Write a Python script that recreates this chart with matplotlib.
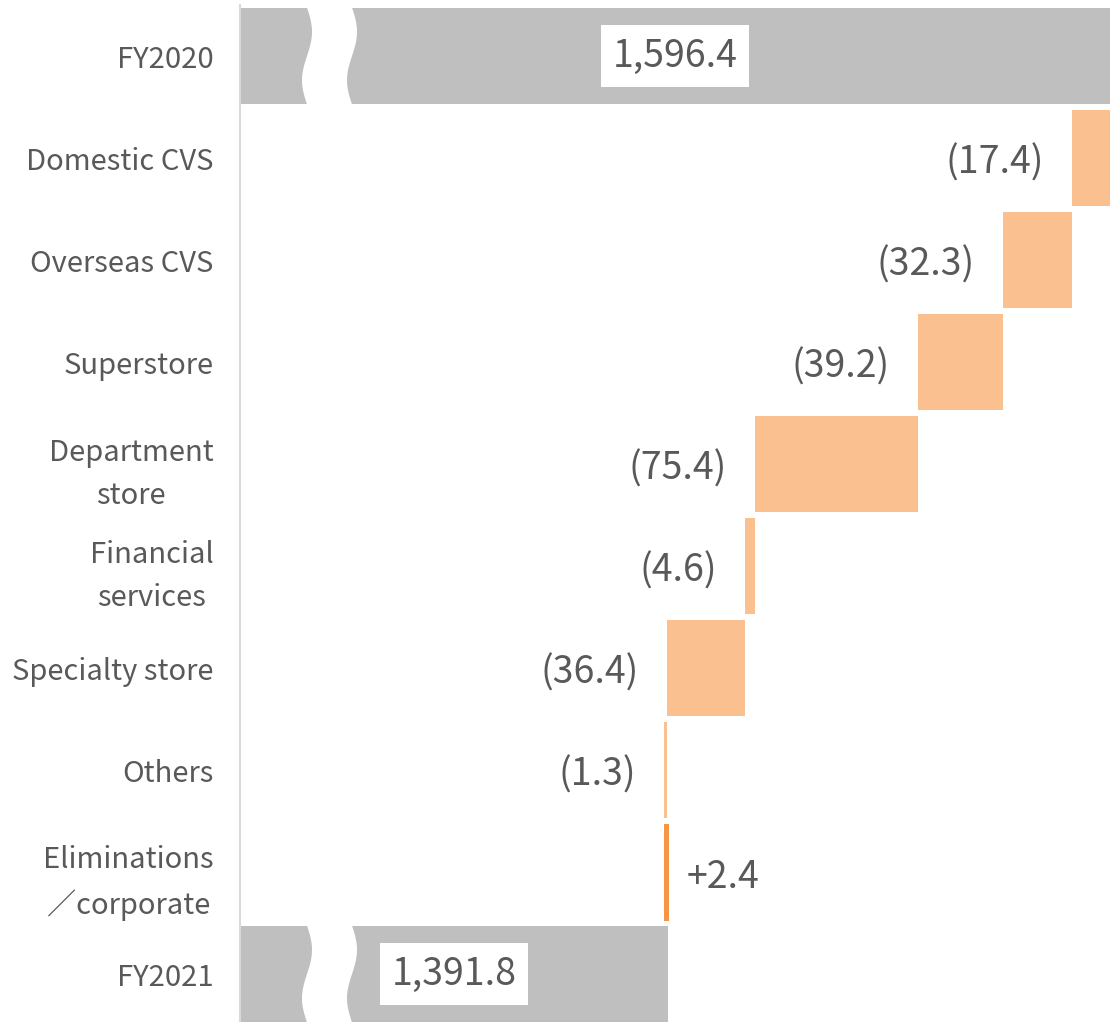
import numpy as np
import matplotlib
matplotlib.use("Agg")
import matplotlib.pyplot as plt
import matplotlib.transforms as mtransforms

plt.rcParams['font.family'] = ['Noto Sans CJK JP', 'DejaVu Sans']

categories = ["FY2020", "Domestic CVS", "Overseas CVS", "Superstore",
              "Department\nstore", "Financial\nservices", "Specialty store",
              "Others", "Eliminations\n／corporate", "FY2021"]
start_total = 1596.4
changes = [-17.4, -32.3, -39.2, -75.4, -4.6, -36.4, -1.3, 2.4]
end_total = 1391.8

gray = "#BFBFBF"
neg_color = "#FAC090"
pos_color = "#F79646"
text_color = "#595959"

x_min = 1193.6   # axis starts here, total bars are broken
bar_h = 0.95

fig = plt.figure(figsize=(11.1, 10.22), dpi=100)
ax = fig.add_axes([240 / 1110, 0, 1 - 240 / 1110, 1 - 5 / 1022])

n = len(categories)
y = np.arange(n)

# totals
ax.barh(0, start_total - x_min, left=x_min, height=bar_h, color=gray)
ax.barh(n - 1, end_total - x_min, left=x_min, height=bar_h, color=gray)

# steps
level = start_total
for i, d in enumerate(changes, start=1):
    new = level + d
    left = min(level, new)
    ax.barh(i, abs(d), left=left, height=bar_h,
            color=neg_color if d < 0 else pos_color)
    if d < 0:
        ax.annotate(f"({abs(d):.1f})", (left, i), xytext=(-28, -5),
                    textcoords="offset pixels", ha="right", va="center",
                    fontsize=27, color=text_color)
    else:
        ax.annotate(f"+{d:.1f}", (left + abs(d), i), xytext=(18, -5),
                    textcoords="offset pixels", ha="left", va="center",
                    fontsize=27, color=text_color)
    level = new

# total labels in white boxes, centred on the visible bar
for yi, val in [(0, start_total), (n - 1, end_total)]:
    ax.text((x_min + val) / 2, yi, f"{val:,.1f}", ha="center", va="center",
            fontsize=27, color=text_color,
            bbox=dict(boxstyle="square,pad=0.3", fc="white", ec="none"))

# wavy break on total bars
trans = mtransforms.blended_transform_factory(ax.transAxes, ax.transData)
ax_w = 870.0
for yi in (0, n - 1):
    t = np.linspace(0, 1, 60)
    yy = yi - bar_h / 2 + t * bar_h
    xl = (67 + 5 * np.sin(2 * np.pi * t)) / ax_w
    xr = xl + 45 / ax_w
    xs = np.concatenate([xl, xr[::-1]])
    ys = np.concatenate([yy, yy[::-1]])
    ax.fill(xs, ys, color="white", transform=trans, zorder=3, lw=0)

ax.set_xlim(x_min, start_total)
ax.set_ylim(9.47, -0.5)
ax.set_yticks(y)
ax.set_yticklabels(categories, fontsize=21, color=text_color,
                   multialignment="center", linespacing=1.6)
ax.tick_params(axis="y", length=0, pad=19)
ax.set_xticks([])
for s in ["top", "right", "bottom"]:
    ax.spines[s].set_visible(False)
ax.spines["left"].set_color("#D9D9D9")
ax.spines["left"].set_linewidth(1.5)

fig.savefig("out.png", dpi=100)
